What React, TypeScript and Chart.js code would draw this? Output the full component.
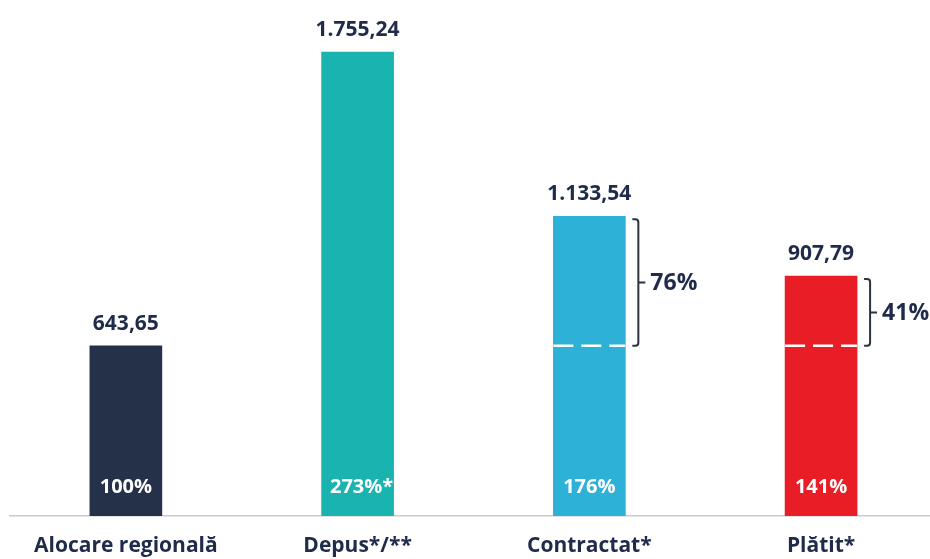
import React, { useEffect, useRef } from "react";
import { Chart, registerables } from "chart.js";

Chart.register(...registerables);

const categories = ["Alocare regională", "Depus*/**", "Contractat*", "Plătit*"];
const values = [643.65, 1755.24, 1133.54, 907.79];
const shareLabels = ["100%", "273%*", "176%", "141%"];
const aboveLabels = ["", "", "76%", "41%"];
const barColors = ["#253049", "#1ab4b0", "#2eb1d7", "#e81d25"];
const referenceValue = values[0];

const TEXT = "#1f2b4a";
const FONT = "'Open Sans', 'Noto Sans', sans-serif";

function formatRo(v: number): string {
  const fixed = v.toFixed(2);
  const [int, dec] = fixed.split(".");
  const withDots = int.replace(/\B(?=(\d{3})+(?!\d))/g, ".");
  return withDots + "," + dec;
}

const annotatePlugin = {
  id: "annotate",
  afterDatasetsDraw(chart: any) {
    const ctx = chart.ctx as CanvasRenderingContext2D;
    const meta = chart.getDatasetMeta(0);
    const yScale = chart.scales.y;
    const refY = yScale.getPixelForValue(referenceValue);
    ctx.save();
    meta.data.forEach((bar: any, i: number) => {
      const { x, y, base, width } = bar.getProps(["x", "y", "base", "width"], true);
      const left = x - width / 2;
      const right = x + width / 2;
      // value label
      ctx.fillStyle = TEXT;
      ctx.font = `bold 21px ${FONT}`;
      ctx.textAlign = "center";
      ctx.textBaseline = "middle";
      ctx.fillText(formatRo(values[i]), x, y - 22);
      // share label inside bar
      ctx.fillStyle = "#ffffff";
      ctx.font = `bold 20px ${FONT}`;
      ctx.fillText(shareLabels[i], x + (shareLabels[i].endsWith("*") ? 4 : 0), base - 29);
      if (aboveLabels[i]) {
        // dashed line
        ctx.strokeStyle = "#ffffff";
        ctx.lineWidth = 2.5;
        ctx.setLineDash([20, 8]);
        ctx.beginPath();
        ctx.moveTo(left, refY);
        ctx.lineTo(right, refY);
        ctx.stroke();
        ctx.setLineDash([]);
        // bracket
        const bx = right + 13;
        const top = y + 3;
        const bottom = refY;
        const mid = (top + bottom) / 2;
        ctx.strokeStyle = "#2b3240";
        ctx.lineWidth = 2;
        ctx.beginPath();
        ctx.moveTo(right + 7, top);
        ctx.lineTo(bx - 3, top);
        ctx.quadraticCurveTo(bx, top, bx, top + 3);
        ctx.lineTo(bx, bottom - 3);
        ctx.quadraticCurveTo(bx, bottom, bx - 3, bottom);
        ctx.lineTo(right + 7, bottom);
        ctx.moveTo(bx, mid);
        ctx.lineTo(bx + 7, mid);
        ctx.stroke();
        ctx.fillStyle = TEXT;
        ctx.font = `bold 23px ${FONT}`;
        ctx.textAlign = "left";
        ctx.fillText(aboveLabels[i], bx + 12, mid + 1);
      }
    });
    ctx.restore();
  },
};

export default function App() {
  const canvasRef = useRef<HTMLCanvasElement | null>(null);

  useEffect(() => {
    const canvas = canvasRef.current;
    if (!canvas) return;
    const chart = new Chart(canvas, {
      type: "bar",
      data: {
        datasets: [
          {
            data: values.map((v, i) => ({ x: i, y: v })),
            backgroundColor: barColors,
            borderWidth: 0,
            barThickness: 72,
          },
        ],
      },
      options: {
        responsive: false,
        animation: false,
        events: [],
        layout: { padding: { left: 10, right: 0, top: 0, bottom: 2 } },
        plugins: {
          legend: { display: false },
          tooltip: { enabled: false },
          title: { display: false },
        },
        scales: {
          x: {
            type: "linear",
            offset: false,
            min: -0.5,
            max: 3.47,
            grid: { display: false, drawTicks: false },
            border: { display: true, color: "#c9cbcf", width: 1.5 },
            afterBuildTicks: (scale: any) => {
              scale.ticks = categories.map((_, i) => ({ value: i }));
            },
            afterFit: (scale: any) => {
              scale.height = 41;
            },
            ticks: {
              autoSkip: false,
              maxRotation: 0,
              padding: 17,
              color: TEXT,
              font: { family: FONT, size: 21, weight: "bold" },
              callback: (value: any) => categories[Number(value)] ?? "",
            },
          },
          y: {
            display: false,
            min: 0,
            max: 1952,
          },
        },
      },
      plugins: [annotatePlugin],
    });
    return () => chart.destroy();
  }, []);

  return (
    <div style={{ position: "absolute", left: 0, top: 0, width: 930, height: 559, background: "#ffffff" }}>
      <canvas ref={canvasRef} width={930} height={559} style={{ display: "block" }} />
    </div>
  );
}
